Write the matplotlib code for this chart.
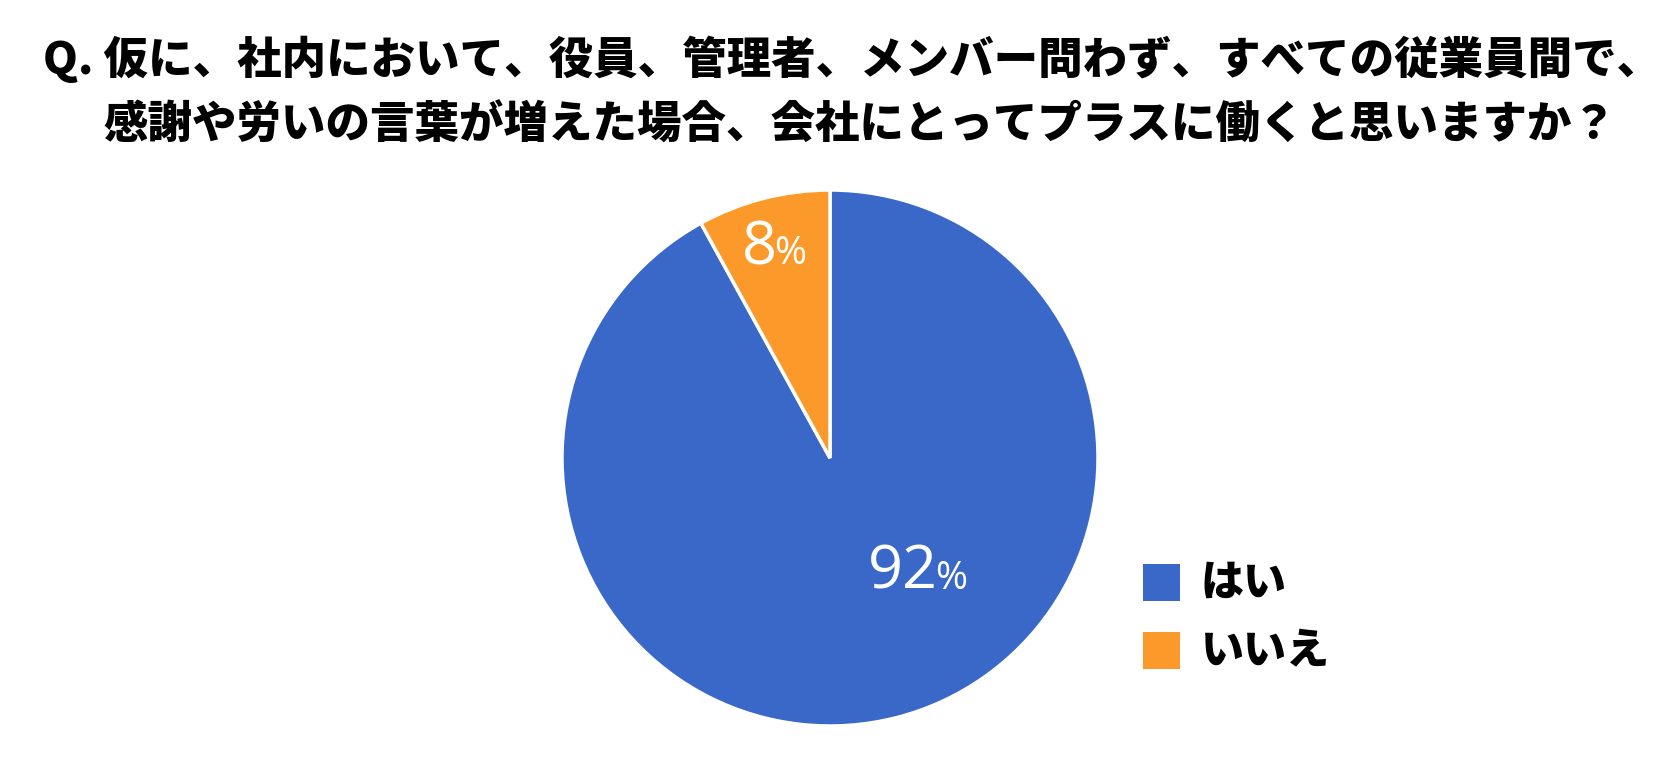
import numpy as np
import matplotlib
matplotlib.use("Agg")
import matplotlib.pyplot as plt
from matplotlib.patches import Rectangle

plt.rcParams['font.family'] = ['Noto Sans CJK JP', 'DejaVu Sans']

title_line1 = "Q. 仮に、社内において、役員、管理者、メンバー問わず、すべての従業員間で、"
title_line2 = "感謝や労いの言葉が増えた場合、会社にとってプラスに働くと思いますか？"
labels = ["はい", "いいえ"]
values = [92, 8]
colors = ["#3A68C8", "#FB9A2B"]

W, H = 1670, 760
fig = plt.figure(figsize=(W / 100, H / 100), dpi=100)
ax = fig.add_axes([0, 0, 1, 1])

cx, cy, r = 830, H - 458, 268
wedges, _ = ax.pie(values, colors=colors, startangle=90, counterclock=False,
                   center=(cx, cy), radius=r, frame=True,
                   wedgeprops=dict(edgecolor='white', linewidth=2.5))
ax.set_xlim(0, W)
ax.set_ylim(0, H)
ax.set_aspect('equal')
ax.axis('off')

# percent labels: number plus a smaller % sign (angle, radius fraction)
label_pos = [(-50.8, 0.63), (105.6, 0.75)]
for v, (ang, frac) in zip(values, label_pos):
    x = cx + frac * r * np.cos(np.radians(ang))
    y = cy + frac * r * np.sin(np.radians(ang))
    ax.text(x + 1, y, str(v), color='white', fontsize=44, ha='right',
            va='baseline', family=['Open Sans', 'DejaVu Sans'])
    ax.text(x - 2, y, "%", color='white', fontsize=28, ha='left',
            va='baseline', family=['Open Sans', 'DejaVu Sans'])

# title
fig.text(43 / W, 1 - 59 / H, title_line1, fontsize=32, fontweight='black',
         ha='left', va='center')
fig.text(103 / W, 1 - 125 / H, title_line2, fontsize=32, fontweight='black',
         ha='left', va='center')

# legend
for i, (lab, col) in enumerate(zip(labels, colors)):
    ytop = 564 + i * 68
    ax.add_patch(Rectangle((1143, H - ytop - 37), 37, 37, facecolor=col,
                           edgecolor='none'))
    ax.text(1201, H - ytop - 19, lab, fontsize=31, fontweight='black',
            ha='left', va='center')

fig.savefig("out.png", dpi=100, facecolor='white')
